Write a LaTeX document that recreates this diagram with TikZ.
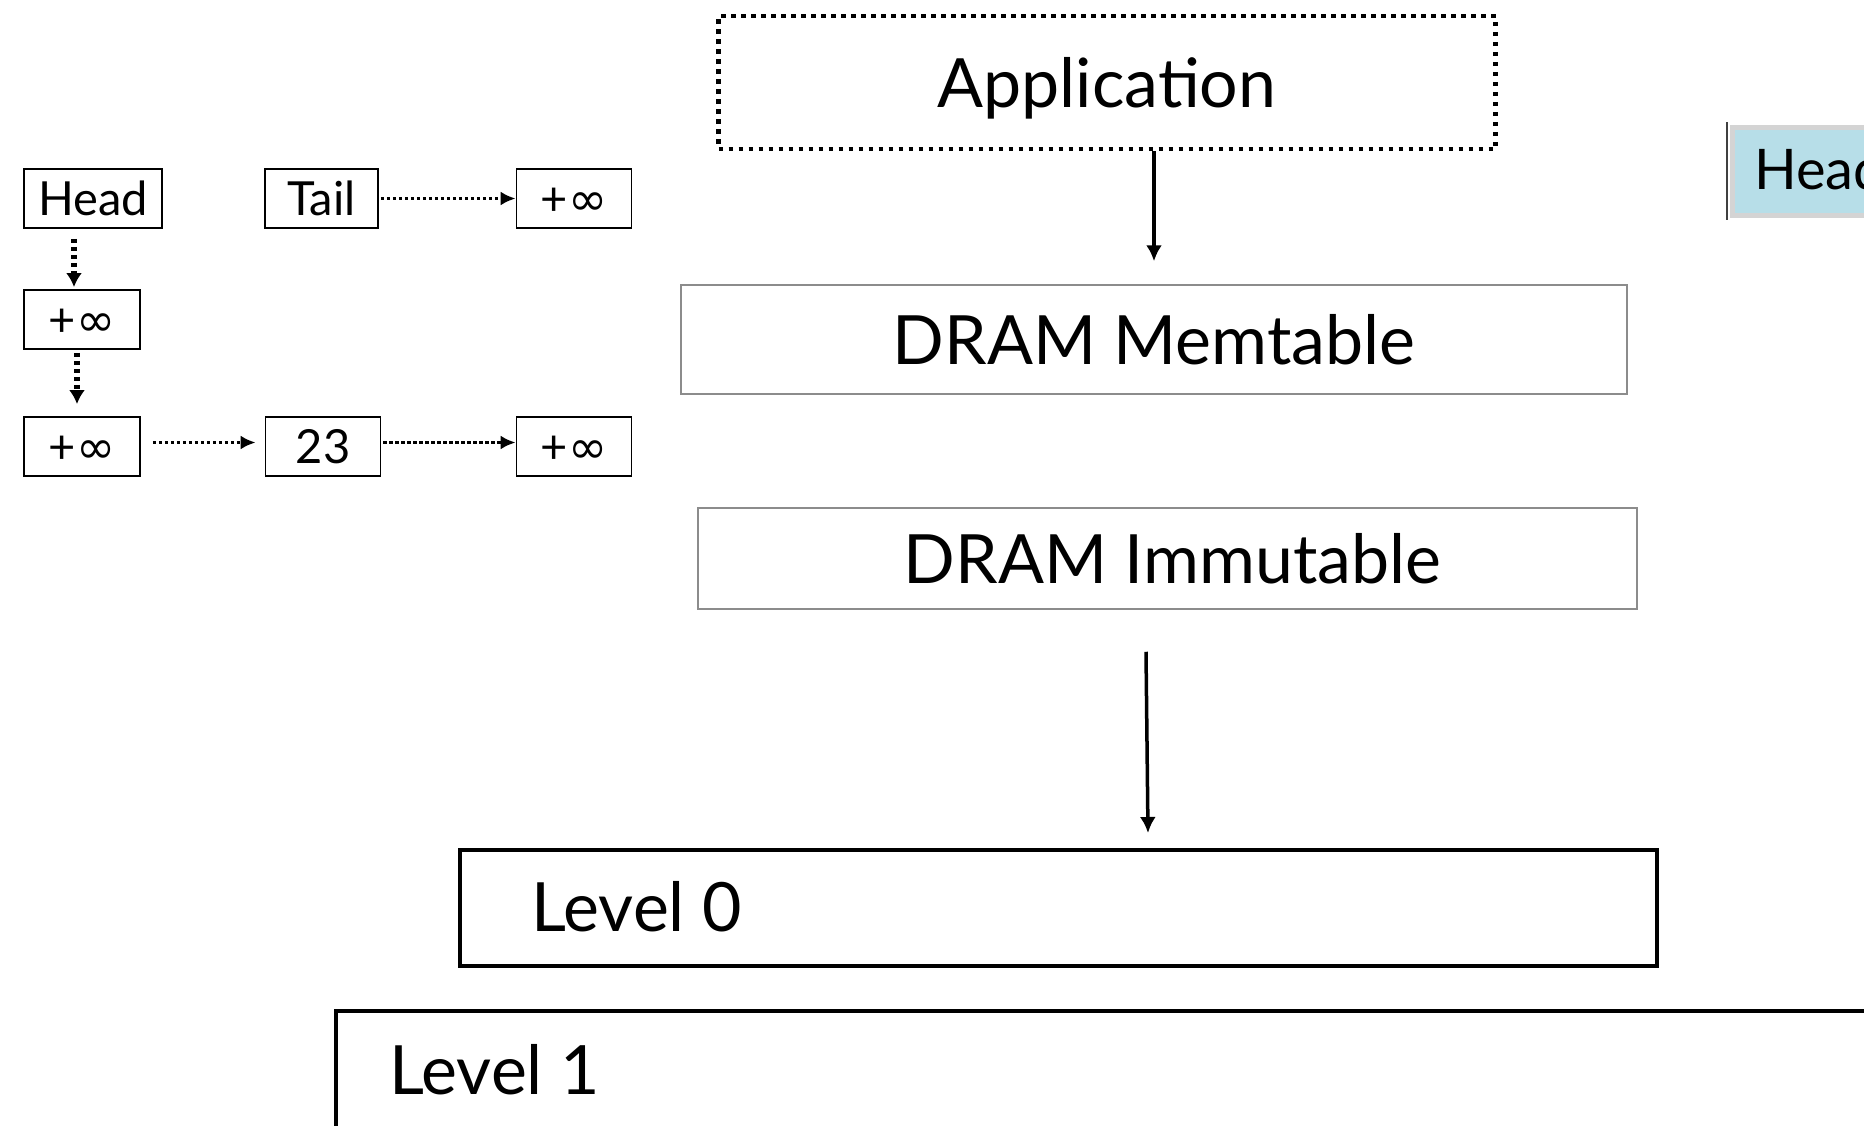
\documentclass[tikz,border=0pt]{standalone}
\usepackage{fontspec}
\setmainfont{Lato}
\newfontfamily\symfont{DejaVu Sans}
\usetikzlibrary{arrows.meta}
\definecolor{grayline}{HTML}{8C8C8C}
\definecolor{headblue}{HTML}{B7DEE8}
\definecolor{headborder}{HTML}{D4D4D4}
\newcommand{\pinf}{+{\symfont ∞}}
\tikzset{
  smallbox/.style={draw=black, line width=1.8pt, inner sep=0pt, minimum height=59pt, font=\fontsize{47}{55}\selectfont, text height=34pt, text depth=0pt},
  bigfont/.style={font=\fontsize{68}{80}\selectfont, text height=49pt, text depth=0pt},
  appbox/.style={draw=black, line width=4.5pt, dash pattern=on 4.5pt off 5.5pt, inner sep=0pt, bigfont},
  graybox/.style={draw=grayline, line width=1.5pt, inner sep=0pt, bigfont},
  thickbox/.style={draw=black, line width=4pt, inner sep=0pt},
  solidarrow/.style={line width=3.5pt, -{Latex[length=16pt,width=16pt]}},
  vdot/.style={line width=5.5pt, dash pattern=on 4pt off 4pt, -{Latex[length=14pt,width=16pt]}},
  hdot/.style={line width=3.5pt, dash pattern=on 3.5pt off 2.5pt, -{Latex[length=15pt,width=14pt]}},
  plaintext/.style={inner sep=0pt}
}
\begin{document}
\begin{tikzpicture}[x=1pt,y=-1pt]
\useasboundingbox (0,0) rectangle (1864,1125);
\clip (0,0) rectangle (1864,1125);
\fill[white] (0,0) rectangle (1864,1125);

% skip list
\node[smallbox, minimum width=138pt] (head) at (93,198.5) {Head};
\node[smallbox, minimum width=113pt] (tail) at (321.5,198.5) {Tail};
\node[smallbox, minimum width=115pt] (tinf) at (574,198.5) {\pinf};
\node[smallbox, minimum width=116pt] (minf) at (82,319.5) {\pinf};
\node[smallbox, minimum width=116pt] (binf) at (82,446.5) {\pinf};
\node[smallbox, minimum width=115pt] (n23) at (323,446.5) {23};
\node[smallbox, minimum width=115pt] (rinf) at (574,446.5) {\pinf};

\draw[vdot] ([shift={(-19pt,-10pt)}]head.south) -- ([shift={(-8pt,2pt)}]minf.north);
\draw[vdot] ([shift={(-5pt,-3pt)}]minf.south) -- ([shift={(-5pt,12pt)}]binf.north);
\draw[hdot] ([xshift=2pt]tail.east) -- (tinf.west);
\draw[hdot] ([shift={(12pt,4pt)}]binf.east) -- ([shift={(-9pt,4pt)}]n23.west);
\draw[hdot] ([shift={(2pt,4pt)}]n23.east) -- ([yshift=4pt]rinf.west);

% main stack
\node[appbox, minimum width=777pt, minimum height=133pt] (app) at (1107,82.5) {Application};
\node[graybox, minimum width=946pt, minimum height=109pt] (mem) at (1154,339.5) {DRAM Memtable};
\node[graybox, minimum width=939pt, minimum height=101pt] (imm) at (1167.5,558.5) {\hspace*{10pt}DRAM Immutable};
\node[thickbox, minimum width=1197pt, minimum height=116pt] (l0) at (1058.5,908) {};
\node[plaintext, bigfont, anchor=west] (l0t) at (531,907) {Level 0};
\node[thickbox, minimum width=1564pt, minimum height=188pt] (l1) at (1118,1105) {};
\node[plaintext, bigfont, anchor=west] (l1t) at (389,1070) {Level 1};

\draw[solidarrow] (app.south -| mem.north) -- ([yshift=23pt]mem.north);
\draw[solidarrow] ([shift={(-21.5pt,-42pt)}]imm.south) -- ([shift={(89.5pt,15pt)}]l0.north);

% cut-off head box on the right
\node[draw=headborder, line width=5pt, fill=headblue, minimum width=300pt, minimum height=88pt, inner sep=0pt, anchor=north west] (rhead) at (1729.5,124.5) {};
\draw[line width=1.5pt, black!75] ([xshift=-2.5pt,yshift=2.5pt]rhead.north west) -- ([xshift=-2.5pt,yshift=-2.5pt]rhead.south west);
\node[plaintext, font=\fontsize{56}{66}\selectfont, text height=41pt, text depth=0pt, anchor=west] (rheadt) at (1754,168.5) {Head};
\end{tikzpicture}
\end{document}
